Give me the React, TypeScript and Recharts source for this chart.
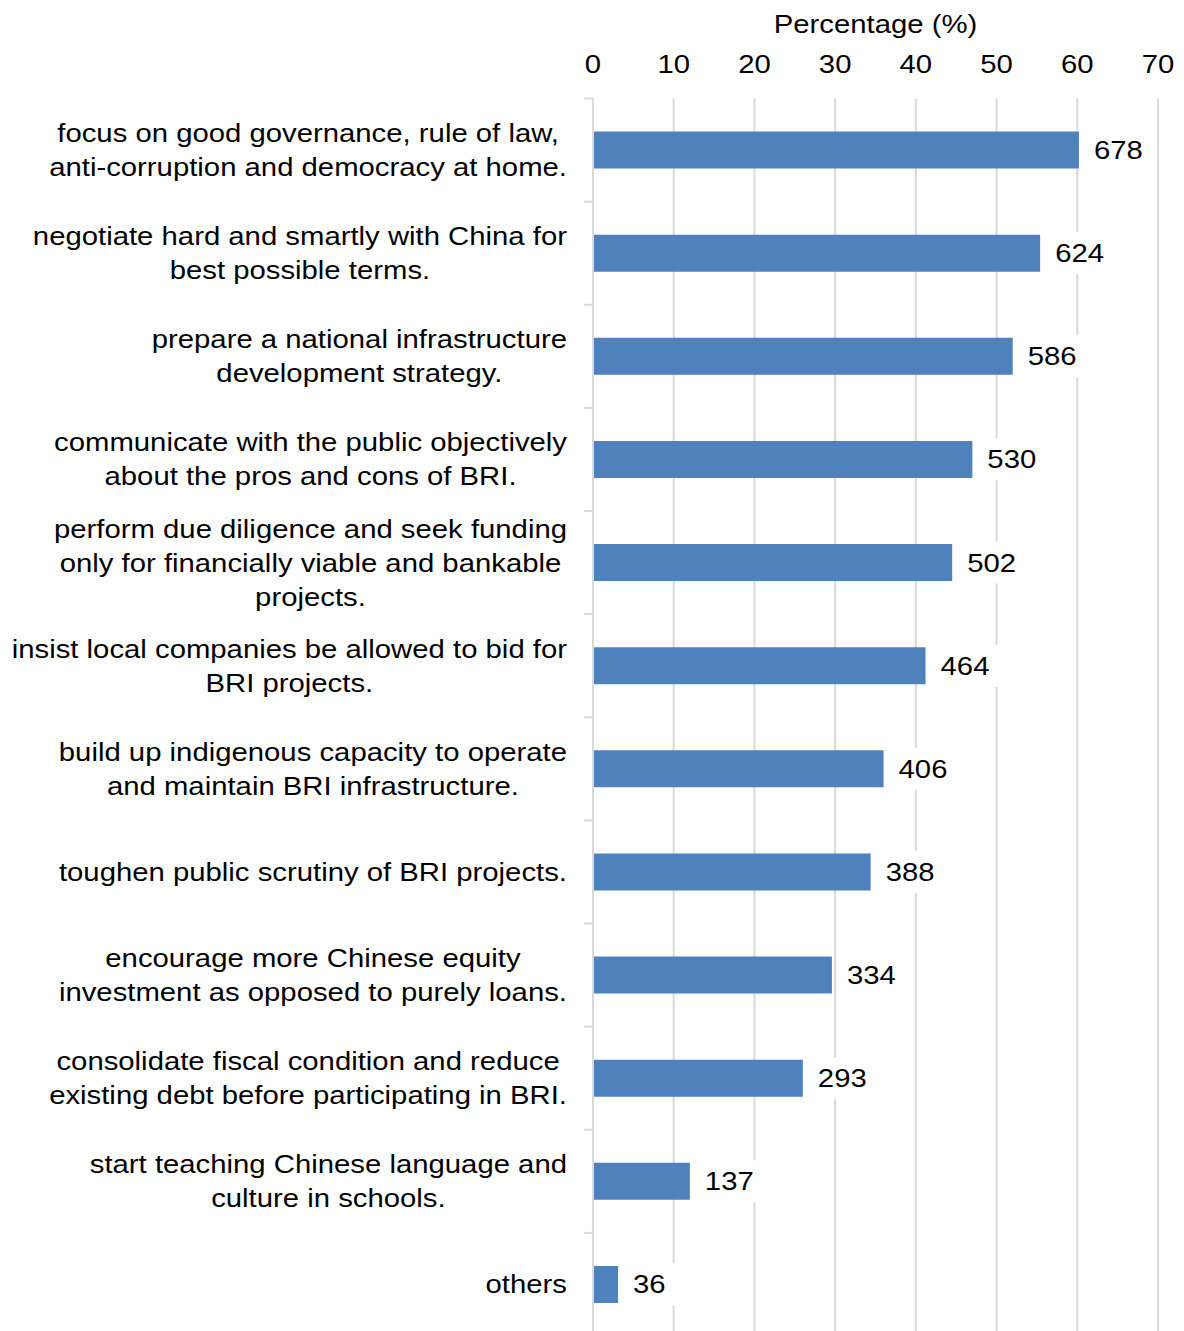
import { Bar, BarChart, CartesianGrid, LabelList, XAxis, YAxis } from 'recharts';

const categories = [
  ['focus on good governance, rule of law,', 'anti-corruption and democracy at home.'],
  ['negotiate hard and smartly with China for', 'best possible terms.'],
  ['prepare a national infrastructure', 'development strategy.'],
  ['communicate with the public objectively', 'about the pros and cons of BRI.'],
  ['perform due diligence and seek funding', 'only for financially viable and bankable', 'projects.'],
  ['insist local companies be allowed to bid for', 'BRI projects.'],
  ['build up indigenous capacity to operate', 'and maintain BRI infrastructure.'],
  ['toughen public scrutiny of BRI projects.'],
  ['encourage more Chinese equity', 'investment as opposed to purely loans.'],
  ['consolidate fiscal condition and reduce', 'existing debt before participating in BRI.'],
  ['start teaching Chinese language and', 'culture in schools.'],
  ['others'],
];
const counts = [678, 624, 586, 530, 502, 464, 406, 388, 334, 293, 137, 36];
const percentages = [60.2, 55.4, 52.0, 47.0, 44.5, 41.2, 36.0, 34.4, 29.6, 26.0, 12.0, 3.1];
const xTicks = [0, 10, 20, 30, 40, 50, 60, 70];

const data = categories.map((lines, i) => ({
  name: lines.join('\n'),
  pct: percentages[i],
  count: counts[i],
}));

const FONT = "'Liberation Sans', Arial, sans-serif";
const FS = 29.3;
const SY = 0.85;
const GRID = '#D9D9D9';

let ctx: CanvasRenderingContext2D | null = null;
const measure = (s: string) => {
  if (!ctx) ctx = document.createElement('canvas').getContext('2d');
  if (!ctx) return s.length * FS * 0.5;
  ctx.font = `${FS}px ${FONT}`;
  return ctx.measureText(s).width;
};

const SText = ({ x, y, anchor = 'middle', children }: any) => (
  <text
    transform={`translate(${x},${y}) scale(1,${SY})`}
    textAnchor={anchor}
    fontSize={FS}
    fontFamily={FONT}
    fill="#000"
  >
    {children}
  </text>
);

// category label, centred lines, plus the little tick marks at the band edges
const CategoryTick = (props: any) => {
  const { x, y, payload, index, height } = props;
  const lines: string[] = String(payload.value).split('\n');
  const maxW = Math.max(...lines.map(measure));
  const cx = x - maxW / 2;
  const first = y - ((lines.length - 1) * 34) / 2 + 9;
  const half = payload.offset || height / categories.length / 2;
  const axisX = x + 26;
  return (
    <g>
      {index === 0 && (
        <line x1={axisX - 9} x2={axisX} y1={y - half} y2={y - half} stroke={GRID} strokeWidth={2} />
      )}
      <line x1={axisX - 9} x2={axisX} y1={y + half} y2={y + half} stroke={GRID} strokeWidth={2} />
      {lines.map((l, i) => (
        <SText key={i} x={cx} y={first + i * 34}>
          {l}
        </SText>
      ))}
    </g>
  );
};

const PctTick = (props: any) => {
  const { x, y, payload } = props;
  return <SText x={x} y={y}>{payload.value}</SText>;
};

const TitleLabel = (props: any) => {
  const vb = props.viewBox || {};
  return (
    <SText x={vb.x + vb.width / 2} y={vb.y + 33}>
      Percentage (%)
    </SText>
  );
};

const ValueLabel = (props: any) => {
  const { x, y, width, height, value } = props;
  const tx = x + width + 15;
  const cy = y + height / 2;
  const w = measure(String(value));
  return (
    <g>
      <rect x={tx - 8} y={cy - 21} width={w + 18} height={42} fill="#fff" />
      <SText x={tx} y={cy + 9} anchor="start">
        {value}
      </SText>
    </g>
  );
};

export default function App() {
  return (
    <div style={{ position: 'absolute', left: 0, top: 0, width: 1184, height: 1331, overflow: 'hidden', background: '#fff' }}>
      <BarChart
        width={1184}
        height={1336}
        data={data}
        layout="vertical"
        margin={{ top: 0, right: 26, bottom: 0, left: 0 }}
        barCategoryGap={0}
      >
        <CartesianGrid vertical horizontal={false} stroke={GRID} strokeWidth={2} />
        <XAxis
          type="number"
          orientation="top"
          domain={[0, 70]}
          ticks={xTicks}
          height={98.5}
          axisLine={false}
          tickLine={false}
          tickSize={0}
          tickMargin={26}
          tick={<PctTick />}
          interval={0}
          label={{ content: <TitleLabel /> }}
        />
        <YAxis
          type="category"
          dataKey="name"
          width={593}
          axisLine={{ stroke: GRID, strokeWidth: 2 }}
          tickLine={false}
          tickSize={0}
          tickMargin={26}
          tick={<CategoryTick />}
          interval={0}
        />
        <Bar dataKey="pct" fill="#4F81BD" barSize={37} isAnimationActive={false}>
          <LabelList dataKey="count" content={<ValueLabel />} />
        </Bar>
      </BarChart>
    </div>
  );
}
